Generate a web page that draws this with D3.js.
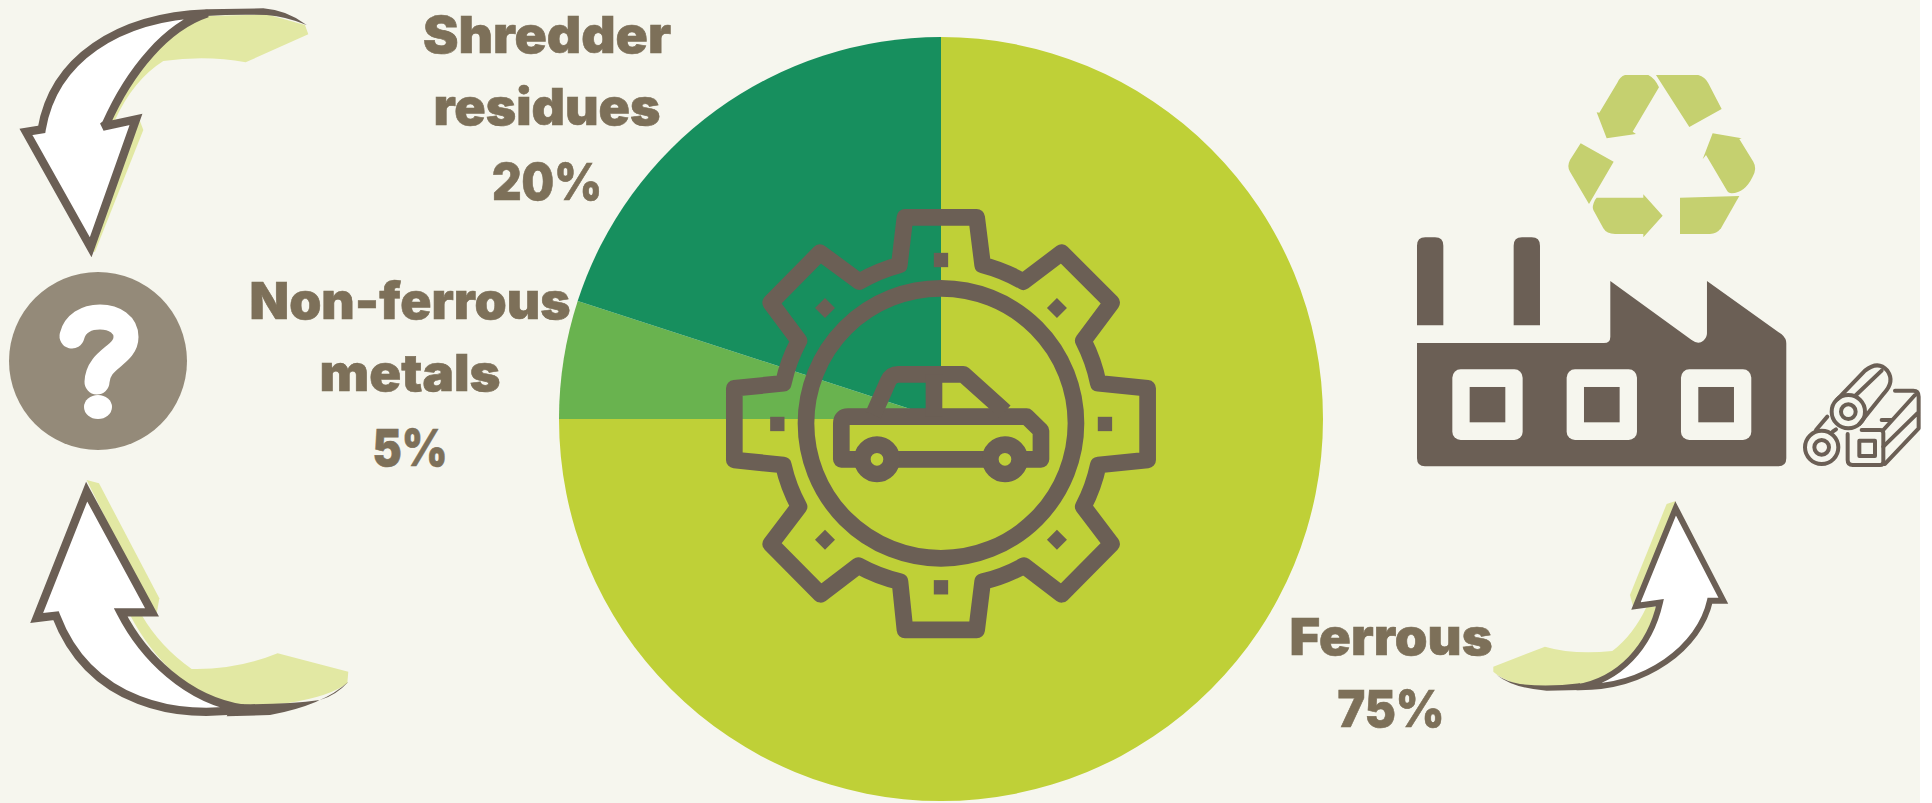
<!DOCTYPE html>
<html>
<head>
<meta charset="utf-8">
<script src="https://cdn.jsdelivr.net/npm/d3@7"></script>
<style>
html, body { margin: 0; padding: 0; background: #ffffff; overflow: hidden; }
svg { display: block; }
</style>
</head>
<body>
<svg></svg>
<script>
// the data
var categories = ["Ferrous", "Non-ferrous metals", "Shredder residues"];
var shares = [75, 5, 20];
var sliceColors = ["#bfd037", "#69b34f", "#178f5e"];
// label lines, one list per category
var ferrousLines = ["Ferrous", "75%"];
var nonFerrousLines = ["Non-ferrous", "metals", "5%"];
var shredderLines = ["Shredder", "residues", "20%"];

// global variables
var width = 1932;
var height = 803;
var bg = "#f6f6ee";
var brown = "#6b5f55";
var textBrown = "#7d7059";
var paleGreen = "#e2e8a3";
var recycleGreen = "#c5d06f";

var svg = d3.select("svg")
  .attr("width", width)
  .attr("height", height);

svg.append("rect")
  .attr("width", 1920)
  .attr("height", height)
  .attr("fill", bg);

// the pie
var color = d3.scaleOrdinal().domain(categories).range(sliceColors);
var pie = d3.pie().sort(null).value(function(d) { return d.share; });
var arc = d3.arc().innerRadius(0).outerRadius(382);
var rows = categories.map(function(c, i) { return { name: c, share: shares[i] }; });

svg.append("g")
  .attr("transform", "translate(941,419)")
  .selectAll("path")
  .data(pie(rows))
  .enter()
  .append("path")
  .attr("d", arc)
  .attr("fill", function(d) { return color(d.data.name); });

// the labels
function label(lines, cx, baselines, widths) {
  svg.append("g").selectAll("text")
    .data(lines)
    .enter()
    .append("text")
    .attr("x", cx)
    .attr("y", function(d, i) { return baselines[i]; })
    .attr("text-anchor", "middle")
    .attr("textLength", function(d, i) { return widths[i]; })
    .attr("lengthAdjust", "spacingAndGlyphs")
    .attr("font-family", "Inter, 'Open Sans', sans-serif")
    .attr("font-weight", 900)
    .attr("font-size", 51)
    .attr("fill", textBrown)
    .attr("stroke", textBrown)
    .attr("stroke-width", 0.6)
    .text(function(d) { return d; });
}
label(shredderLines, 547, [53, 125, 200], [248, 227, 110]);
label(nonFerrousLines, 410, [319, 391, 466], [321, 181, 75]);
label(ferrousLines, 1391, [655, 727], [203, 107]);

// gear with the car, coordinates from a 3x crop
var gear = svg.append("g").attr("transform", "translate(700,180) scale(0.3333)");
var R = "A490,490 0 0 0 ";
gear.append("path")
  .attr("d", "M615,112 L598,255 " + R + "478,305 L360,218 L212,368 L297,482 " + R + "250,610 L103,625 L103,840 L250,855 " + R + "297,980 L212,1092 L362,1243 L475,1157 " + R + "600,1205 L615,1350 L830,1350 L848,1205 " + R + "972,1157 L1085,1243 L1235,1092 L1150,980 " + R + "1195,855 L1343,840 L1343,625 L1195,610 " + R + "1150,482 L1235,368 L1085,218 L970,305 " + R + "848,255 L830,112 Z")
  .attr("fill", "none").attr("stroke", brown).attr("stroke-width", 50).attr("stroke-linejoin", "round");
gear.append("circle")
  .attr("cx", 723).attr("cy", 730).attr("r", 405)
  .attr("fill", "none").attr("stroke", brown).attr("stroke-width", 50);
[[723,240],[723,1222],[232,732],[1215,732]].forEach(function(p) {
  gear.append("rect").attr("x", p[0]-21.5).attr("y", p[1]-21.5).attr("width", 43).attr("height", 43).attr("fill", brown);
});
[[375,384],[1071,384],[375,1079],[1071,1079]].forEach(function(p) {
  gear.append("path").attr("d", "M" + (p[0]-30) + "," + p[1] + "l30,-30l30,30l-30,30Z").attr("fill", brown);
});
var carStroke = { fill: "none", stroke: brown, "stroke-width": 50, "stroke-linejoin": "round" };
function car(tag) {
  var el = gear.append(tag);
  Object.keys(carStroke).forEach(function(k) { el.attr(k, carStroke[k]); });
  return el;
}
car("path").attr("d", "M470,838 L424,838 L424,730 Q424,710 444,710 L980,710 L1023,752 L1023,838 L975,838");
car("path").attr("d", "M590,838 L855,838");
car("path").attr("d", "M520,705 L565,603 Q574,583 595,583 L790,583 L915,695");
car("path").attr("d", "M702,583 L702,710");
car("circle").attr("cx", 531).attr("cy", 838).attr("r", 44);
car("circle").attr("cx", 915).attr("cy", 838).attr("r", 44);

// recycle sign
var recycle = svg.append("g").attr("transform", "translate(1560,60) scale(0.3333)");
[
  "M195,45 L265,45 Q285,55 297,82 L218,215 L228,222 L140,235 L110,157 L118,158 L172,68 Q180,50 195,45Z",
  "M288,45 L415,45 Q435,50 445,70 L485,147 L388,201Z",
  "M458,220 L545,235 L538,237 L580,305 Q592,325 578,350 Q555,398 515,400 Q505,400 500,390 L438,285 L428,298Z",
  "M62,250 L161,305 L87,432 L30,335 Q20,320 30,300Z",
  "M110,413 L250,413 L250,403 L308,467 L250,532 L250,522 L165,522 Q140,522 130,505 L100,450 Q95,440 105,420Z",
  "M360,413 L538,408 L483,505 Q470,522 450,522 L360,522Z"
].forEach(function(d) {
  recycle.append("path").attr("d", d).attr("fill", recycleGreen);
});

// factory
var factory = svg.append("g").attr("transform", "translate(1410,225) scale(0.3333)");
factory.append("path")
  .attr("d", "M21,301 L21,62 Q21,37 46,37 L75,37 Q100,37 100,62 L100,301Z M311,301 L311,62 Q311,37 336,37 L365,37 Q390,37 390,62 L390,301Z")
  .attr("fill", brown);
factory.append("path")
  .attr("d", "M21,354 L582,354 Q601,354 601,335 L601,168 L845,345 Q865,360 880,347 Q891,338 891,325 L891,168 L1115,328 Q1129,340 1129,355 L1129,700 Q1129,724 1105,724 L45,724 Q21,724 21,700Z")
  .attr("fill", brown);
[[127,179],[470,522],[813,865]].forEach(function(p) {
  factory.append("rect").attr("x", p[0]).attr("y", 433).attr("width", 211).attr("height", 212).attr("rx", 25).attr("fill", bg);
  factory.append("rect").attr("x", p[1]).attr("y", 486).attr("width", 107).attr("height", 106).attr("fill", brown);
});

// logs and block
var logs = svg.append("g").attr("transform", "translate(1800,350) scale(0.3333)")
  .attr("fill", "none").attr("stroke", brown).attr("stroke-width", 12).attr("stroke-linecap", "round").attr("stroke-linejoin", "round");
logs.append("circle").attr("cx", 145).attr("cy", 185).attr("r", 50);
logs.append("circle").attr("cx", 145).attr("cy", 185).attr("r", 22);
logs.append("circle").attr("cx", 65).attr("cy", 292).attr("r", 50);
logs.append("circle").attr("cx", 65).attr("cy", 292).attr("r", 22);
logs.append("path").attr("d", "M112,148 L195,62 Q235,30 262,62 Q285,95 252,130 L178,222");
logs.append("path").attr("d", "M165,138 L245,62");
logs.append("path").attr("d", "M48,240 L82,200 M98,245 L108,238");
logs.append("path").attr("d", "M143,252 L143,330 Q143,345 158,345 L240,345 Q250,345 250,335 L250,250 Q250,240 240,240 L185,240");
logs.append("path").attr("d", "M178,272 L225,272 L225,318 L178,318Z");
logs.append("path").attr("d", "M250,240 L345,135 M285,122 L340,122 Q356,122 356,140 L356,235 L255,342 M250,290 L352,190 M245,210 L275,210");

// the three curved arrows
function arrow(tx, ty, pale, white, sliver, sw) {
  var g = svg.append("g").attr("transform", "translate(" + tx + "," + ty + ") scale(0.3333)");
  pale.forEach(function(d) { g.append("path").attr("d", d).attr("fill", paleGreen); });
  g.append("path").attr("d", sliver).attr("fill", brown);
  g.append("path").attr("d", white).attr("fill", "#ffffff").attr("stroke", brown).attr("stroke-width", sw).attr("stroke-linejoin", "miter");
}
arrow(0, 0,
  ["M625,48 L800,43 L915,75 L925,103 L737,187 Q620,165 490,183 Q400,240 345,360 L315,372 C390,210 500,80 625,48Z",
   "M410,352 L415,350 L430,390 L285,755 L272,755Z"],
  "M125,388 C160,180 350,50 622,40 C500,80 390,210 318,372 L308,380 L408,358 L272,742 L78,396Z",
  "M620,28 L790,25 Q860,30 920,75 Q860,50 800,45 Q700,42 620,48Z",
  25);
arrow(20, 470,
  ["M200,30 L237,40 L418,385 L410,432 L395,425Z",
   "M330,435 L365,435 Q420,530 515,597 Q650,600 773,550 L985,605 L982,640 Q930,680 800,700 L670,710 C520,690 400,570 330,435Z"],
  "M200,65 L396,427 L302,427 C370,560 500,690 670,716 C480,750 210,705 108,437 L50,444Z",
  "M640,702 Q800,705 900,690 Q950,675 985,635 Q910,705 750,735 L620,739Z",
  25);
arrow(1280, 480,
  ["M1160,72 L1187,63 L1075,375 L1060,382 L1050,345Z",
   "M640,560 L795,500 Q880,525 997,513 Q1060,465 1100,380 L1130,380 C1090,520 1010,600 900,618 Q800,625 720,615 Q660,595 640,575Z"],
  "M1187,85 L1330,362 L1290,362 C1260,500 1100,625 890,622 C1020,600 1110,500 1140,368 L1068,378Z",
  "M650,585 Q700,625 800,632 L900,630 L900,610 Q800,622 720,612 Q680,605 650,585Z",
  18);

// question mark
svg.append("circle").attr("cx", 98).attr("cy", 361).attr("r", 89).attr("fill", "#948a79");
svg.append("path")
  .attr("d", "M72,336 C75,324 86,317 100,317 C115,317 126,325 126,337 C126,356 98,358 97,382")
  .attr("fill", "none").attr("stroke", "#ffffff").attr("stroke-width", 25).attr("stroke-linecap", "round");
svg.append("ellipse").attr("cx", 98).attr("cy", 407).attr("rx", 14).attr("ry", 12).attr("fill", "#ffffff");
</script>
</body>
</html>
